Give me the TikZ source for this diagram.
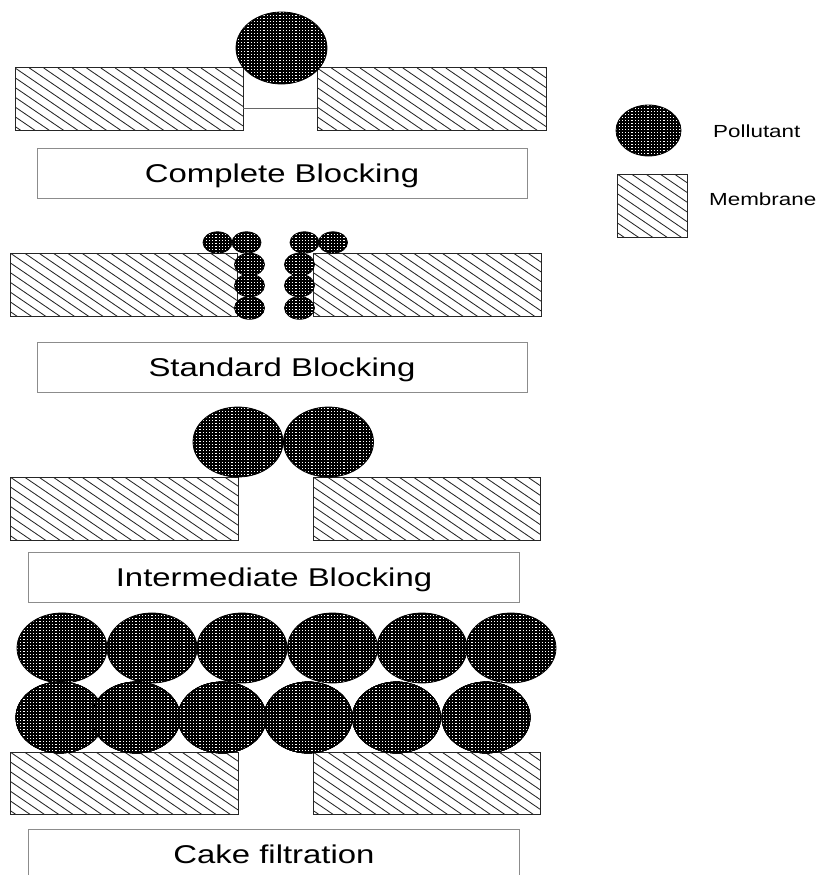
\documentclass[tikz,border=0pt]{standalone}
\usepackage{fontspec}
\setmainfont{Liberation Sans}
\usetikzlibrary{patterns}

% fine white speckle laid over the black pollutant fill
\pgfdeclarepatternformonly{speckle}{\pgfpoint{-1pt}{-1pt}}{\pgfpoint{4pt}{4pt}}{\pgfpoint{3.2pt}{3pt}}{%
  \pgfpathrectangle{\pgfpoint{1.0pt}{0.6pt}}{\pgfpoint{1.2pt}{1.8pt}}\pgfusepath{fill}}

\tikzset{
  hatchline/.style={line width=0.85pt, draw=black!85},
  memedge/.style={line width=1pt, draw=black!85},
  particle/.style={preaction={fill=black}, pattern=speckle, pattern color=white,
                   draw=black, line width=0.8pt},
  labelbox/.style={draw=black!45, line width=0.8pt},
  caption/.style={anchor=base, inner sep=0pt, font=\fontsize{25.7}{30}\selectfont},
  keytext/.style={anchor=base west, inner sep=0pt, font=\fontsize{17.5}{21}\selectfont},
}

% membrane block: hatched rectangle from (x1,y1) to (x2,y2)
\newcommand\membrane[4]{%
  \begin{scope}
    \clip (#1,#2) rectangle (#3,#4);
    \foreach \s in {0,14.3,...,440}
      \draw[hatchline] (#1-100+\s,#2) -- ++(110,75);
  \end{scope}
  \draw[memedge] (#1,#2) rectangle (#3,#4);}

% pollutant particle: centre (cx,cy), radii rx, ry
\newcommand\pollutant[4]{%
  \path[particle] (#1,#2) ellipse [x radius=#3pt, y radius=#4pt];}

\newcommand\stretched[1]{\scalebox{1.28}[1]{#1}}

\begin{document}
\begin{tikzpicture}[x=1pt, y=-1pt]
  \useasboundingbox (0,0) rectangle (815,875);
  \clip (0,0) rectangle (815,875);

  % ---- Complete blocking ----
  \membrane{15}{68}{243}{130}
  \membrane{317}{68}{546}{130}
  \coordinate (poreL) at (243,108);
  \coordinate (poreR) at (317,108);
  \draw[draw=black!60, line width=0.7pt] (poreL) -- (poreR);
  \pollutant{281.5}{48}{45.5}{36}
  \draw[labelbox] (37,148) rectangle (527,198);
  \node[caption] (cap1) at (282,182) {\stretched{Complete Blocking}};

  % ---- Standard blocking ----
  \membrane{10}{253}{237}{316}
  \membrane{313}{253}{541}{316}
  \pollutant{217.5}{242.5}{14.5}{10.7}
  \pollutant{246.5}{242.5}{14.5}{10.7}
  \pollutant{304.5}{242.5}{14.5}{10.7}
  \pollutant{333}{242.5}{14.5}{10.7}
  \pollutant{249.5}{264.5}{15}{11.3}
  \pollutant{249.5}{285.5}{15}{11.3}
  \pollutant{249.5}{308}{15}{11.3}
  \pollutant{299.5}{264.5}{15}{11.3}
  \pollutant{299.5}{285.5}{15}{11.3}
  \pollutant{299.5}{308}{15}{11.3}
  \draw[labelbox] (37,342) rectangle (527,392);
  \node[caption] (cap2) at (282,376) {\stretched{Standard Blocking}};

  % ---- Intermediate blocking ----
  \membrane{10}{477}{238}{540}
  \membrane{313}{477}{540}{540}
  \pollutant{238}{442}{45}{35}
  \pollutant{328.5}{442}{45}{35}
  \draw[labelbox] (28,552) rectangle (519,602);
  \node[caption] (cap3) at (274,586) {\stretched{Intermediate Blocking}};

  % ---- Cake filtration ----
  \membrane{10}{752}{238}{814}
  \membrane{313}{752}{540}{814}
  \foreach \cx in {62,152,242,332.5,422,511}
    \pollutant{\cx}{648}{45}{35}
  \foreach \cx in {60,136,222,308,396.5,486}
    \pollutant{\cx}{717.5}{44}{35.5}
  \draw[labelbox] (28,829) rectangle (519,880);
  \node[caption] (cap4) at (274,863) {\stretched{Cake filtration}};

  % ---- Key ----
  \pollutant{648.5}{130.5}{32.5}{25.5}
  \membrane{617}{174}{687}{237}
  \node[keytext] (keyP) at (713,137.5) {\stretched{Pollutant}};
  \node[keytext] (keyM) at (709,205.5) {\stretched{Membrane}};
\end{tikzpicture}
\end{document}
